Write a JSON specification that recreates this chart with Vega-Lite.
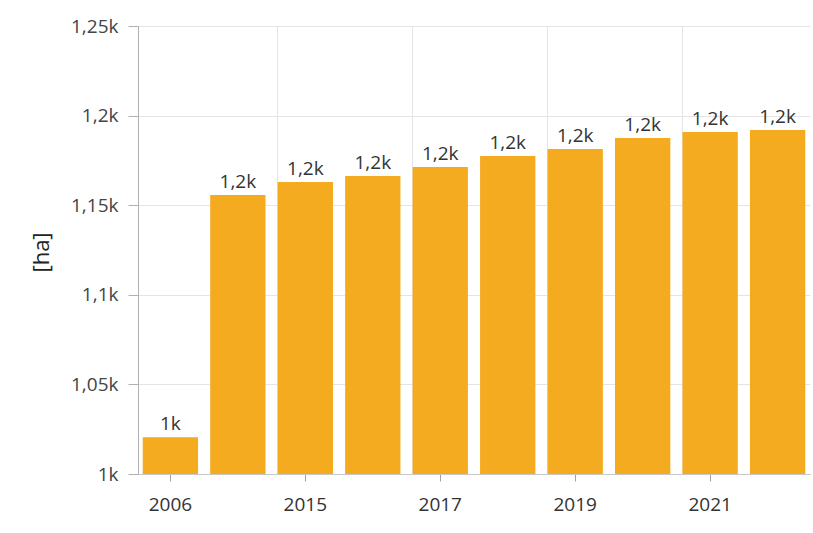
{
  "$schema": "https://vega.github.io/schema/vega-lite/v6.json",
  "width": 672,
  "height": 448,
  "autosize": {"type": "none"},
  "padding": {"left": 138, "top": 26, "right": 3, "bottom": 59},
  "config": {
    "font": "Open Sans",
    "view": {"stroke": null},
    "locale": {"number": {"decimal": ",", "thousands": ".", "grouping": [3], "currency": ["", " €"]}},
    "axis": {"labelFont": "Open Sans", "titleFont": "Open Sans"}
  },
  "data": {
    "values": [
      {"year": "2006", "area": 1020.5},
      {"year": "2014", "area": 1155.7},
      {"year": "2015", "area": 1163},
      {"year": "2016", "area": 1166.3},
      {"year": "2017", "area": 1171.3},
      {"year": "2018", "area": 1177.5},
      {"year": "2019", "area": 1181.4},
      {"year": "2020", "area": 1187.5},
      {"year": "2021", "area": 1190.8},
      {"year": "2022", "area": 1192}
    ]
  },
  "layer": [
    {
      "mark": {"type": "bar", "color": "#F5AB1F"},
      "encoding": {
        "x": {
          "field": "year", "type": "ordinal", "sort": null,
          "scale": {"paddingInner": 0.18, "paddingOuter": 0.07},
          "axis": {
            "values": ["2006", "2015", "2017", "2019", "2021"],
            "labelAngle": 0, "grid": false, "title": null,
            "domainColor": "#c8c8c8", "tickColor": "#a0a0a0", "tickSize": 7,
            "labelPadding": 14, "labelFontSize": 19, "labelColor": "#333333"
          }
        },
        "y": {
          "field": "area", "type": "quantitative", "title": "[ha]",
          "scale": {"domain": [1000, 1250], "zero": false, "nice": false},
          "axis": {
            "values": [1000, 1050, 1100, 1150, 1200, 1250],
            "format": ".3~s",
            "grid": true, "gridColor": "#e4e4e4",
            "domainColor": "#b0b0b0", "tickColor": "#b0b0b0", "tickSize": 10,
            "labelPadding": 10, "labelFontSize": 19, "labelColor": "#444444",
            "titleFontSize": 22, "titleFontWeight": "normal", "titleColor": "#222222",
            "titleX": -97, "titleY": 226, "titleAngle": -90, "titleBaseline": "middle", "titleAlign": "center"
          }
        },
        "y2": {"datum": 1000}
      }
    },
    {
      "mark": {"type": "text", "baseline": "bottom", "dy": -3, "fontSize": 19, "color": "#333333"},
      "encoding": {
        "x": {
          "field": "year", "type": "ordinal", "sort": null,
          "axis": {
            "values": ["2015", "2017", "2019", "2021"],
            "bandPosition": 0, "grid": true, "gridColor": "#e4e4e4",
            "ticks": false, "labels": false, "domain": false, "title": null
          }
        },
        "y": {"field": "area", "type": "quantitative", "title": "[ha]"},
        "text": {"field": "area", "type": "quantitative", "format": ".2~s"}
      }
    }
  ],
  "resolve": {"axis": {"x": "independent"}}
}
